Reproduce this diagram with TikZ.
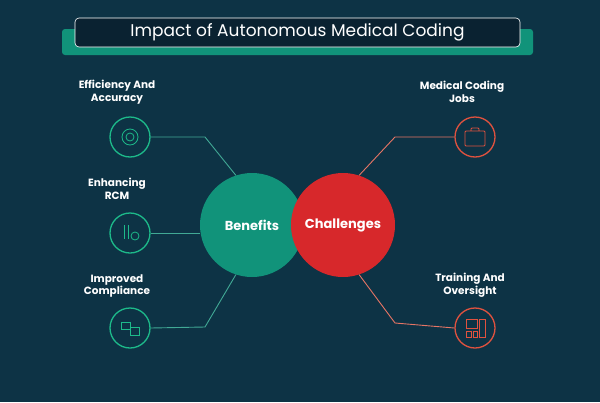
\documentclass[tikz,border=0pt]{standalone}
\usepackage{fontspec}
\setmainfont{Poppins}
\definecolor{bg}{HTML}{0D3345}
\definecolor{teal}{HTML}{11937A}
\definecolor{tealb}{HTML}{1DBA8A}
\definecolor{redc}{HTML}{D7282B}
\definecolor{redl}{HTML}{E0523F}
\definecolor{dark}{HTML}{0A2231}
\begin{document}
\begin{tikzpicture}[x=1pt,y=-1pt,
  lbl/.style={text=white,font=\bfseries\fontsize{10.5}{12.5}\selectfont,align=center},
  gicon/.style={circle,draw=tealb,line width=1.3pt,minimum size=40pt,inner sep=0pt},
  ricon/.style={circle,draw=redl,line width=1.3pt,minimum size=40pt,inner sep=0pt},
  gline/.style={draw=teal!80!white,line width=0.9pt},
  rline/.style={draw=redl!80!white,line width=0.9pt}]
\fill[bg] (0,0) rectangle (600,402);
\useasboundingbox (0,0) rectangle (600,402);
% title
\node[fill=teal,rounded corners=3pt,minimum width=471pt,minimum height=26pt] (tb) at (297.5,42) {};
\node[fill=dark,draw=white,line width=0.6pt,rounded corners=4pt,minimum width=445pt,minimum height=29pt,text=white,font=\fontsize{17}{19}\selectfont] (title) at (297.5,32.5) {Impact of Autonomous Medical Coding};
% main circles
\node[circle,fill=teal,minimum size=104pt,inner sep=0pt,text=white,font=\bfseries\fontsize{13}{15}\selectfont] (ben) at (252,225) {Benefits};
\node[circle,fill=redc,minimum size=104pt,inner sep=0pt,text=white,font=\bfseries\fontsize{13}{15}\selectfont] (cha) at (343,225) {Challenges};
% icons
\node[gicon] (i1) at (130,137) {};
\node[gicon] (i2) at (130,233) {};
\node[gicon] (i3) at (130,328) {};
\node[ricon] (j1) at (475,137) {};
\node[ricon] (j2) at (475,328) {};
% glyphs
\draw[tealb,line width=0.8pt] (i1.center) circle (4) circle (8);
\draw[tealb,line width=0.8pt] ([shift={(-6,-8)}]i2.center) -- ++(0,14) ([shift={(-2,-8)}]i2.center) -- ++(0,14);
\draw[tealb,line width=0.8pt] ([shift={(5,3)}]i2.center) circle (4);
\draw[tealb,line width=0.8pt] ([shift={(-9,-6)}]i3.center) rectangle ++(9,7) ([shift={(0,-1)}]i3.center) rectangle ++(9,8);
\draw[redl,line width=0.8pt,rounded corners=1pt] ([shift={(-10,-6)}]j1.center) rectangle ++(20,15) ([shift={(-4,-6)}]j1.center) -- ++(0,-3) -- ++(8,0) -- ++(0,3);
\draw[redl,line width=0.8pt] ([shift={(-9,-9)}]j2.center) rectangle ++(11,9) ([shift={(4,-9)}]j2.center) rectangle ++(6,18) ([shift={(-9,3)}]j2.center) rectangle ++(5,6) ([shift={(-2,3)}]j2.center) rectangle ++(4,6);
% labels
\node[lbl] (l1) at (117,92) {Efficiency And\\Accuracy};
\node[lbl] (l2) at (117,189) {Enhancing\\RCM};
\node[lbl] (l3) at (117,286) {Improved\\Compliance};
\node[lbl] (m1) at (462,92) {Medical Coding\\Jobs};
\node[lbl] (m2) at (470,285) {Training And\\Oversight};
% connectors
\coordinate (a1) at (205,137); \coordinate (a3) at (205,327);
\coordinate (b1) at (395,137); \coordinate (b2) at (395,323);
\draw[gline] (i1.east) -- (a1) -- (ben.108);
\draw[gline] (i2.east) -- (ben.west |- i2.east);
\draw[gline] (i3.east) -- (a3) -- (ben.252);
\draw[rline] (j1.west) -- (b1) -- (cha.72);
\draw[rline] (j2.west) -- (b2) -- (cha.-72);
\end{tikzpicture}
\end{document}
